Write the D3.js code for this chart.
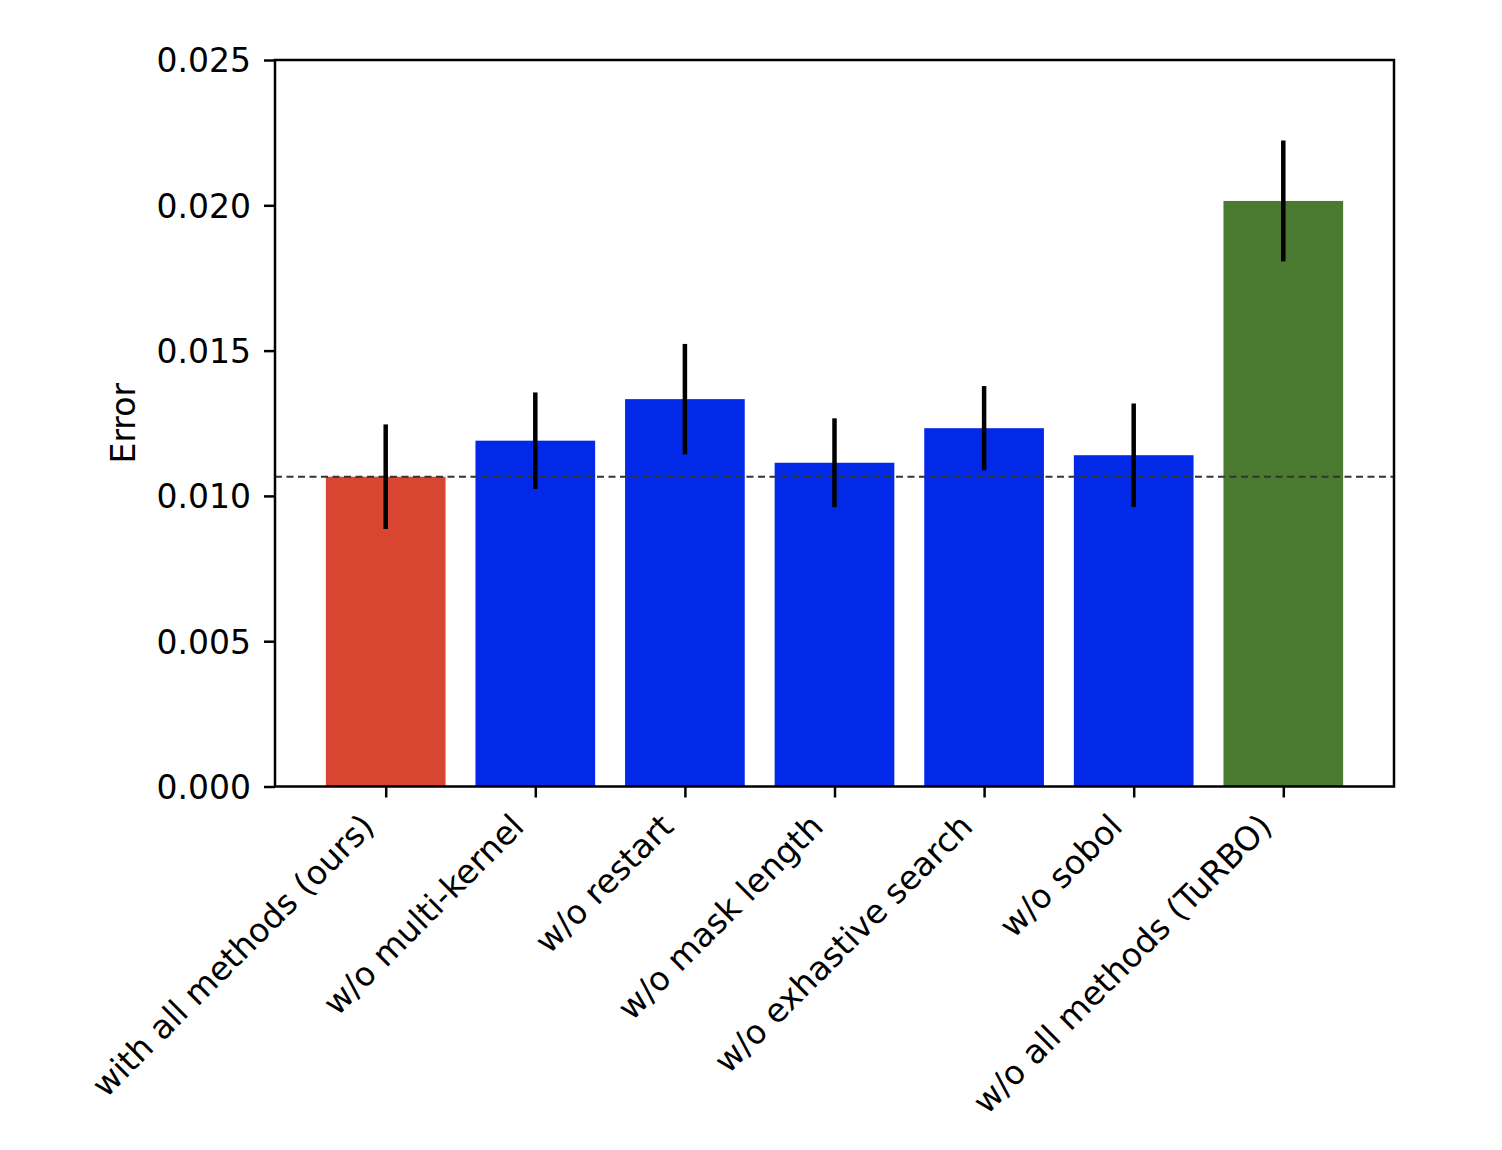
<!DOCTYPE html>
<html>
<head>
<meta charset="utf-8">
<style>
  body { margin: 0; background: #fff; }
  text { font-family: "DejaVu Sans", sans-serif; fill: #000; }
</style>
</head>
<body>
<svg width="1502" height="1150"></svg>
<script src="https://d3js.org/d3.v7.min.js"></script>
<script>
    var methods = [
        "with all methods (ours)",
        "w/o multi-kernel",
        "w/o restart",
        "w/o mask length",
        "w/o exhastive search",
        "w/o sobol",
        "w/o all methods (TuRBO)"
    ];
    var errors = [0.01066, 0.01190, 0.01333, 0.01114, 0.01233, 0.01140, 0.02015];
    var spread = [0.00180, 0.00166, 0.00190, 0.00153, 0.00145, 0.00178, 0.00208];
    var barColors = ["#d84530", "#0229e8", "#0229e8", "#0229e8", "#0229e8", "#0229e8", "#4a7a2f"];
    var yTicks = [0, 0.005, 0.010, 0.015, 0.020, 0.025];
    var baseline = 0.01066;

    var svg = d3.select("svg"),
        axLeft = 275, axRight = 1394, axTop = 60, axBottom = 786.5,
        fontSize = "33px";

    var x = d3.scaleLinear().domain([-0.74, 6.74]).range([axLeft, axRight]);
    var y = d3.scaleLinear().domain([0, 0.025]).range([axBottom, axTop]);
    var barW = x(0.8) - x(0);

    // bars
    svg.selectAll("rect.bar")
        .data(errors)
        .enter().append("rect")
        .attr("class", "bar")
        .attr("x", function(d, i) { return x(i) - barW / 2; })
        .attr("y", function(d) { return y(d); })
        .attr("width", barW)
        .attr("height", function(d) { return y(0) - y(d); })
        .attr("fill", function(d, i) { return barColors[i]; });

    // reference line at our method's error
    svg.append("line")
        .attr("x1", axLeft).attr("x2", axRight)
        .attr("y1", y(baseline)).attr("y2", y(baseline))
        .attr("stroke", "#333")
        .attr("stroke-width", 2)
        .attr("stroke-dasharray", "7,4.5");

    // error bars
    svg.selectAll("line.err")
        .data(errors)
        .enter().append("line")
        .attr("class", "err")
        .attr("x1", function(d, i) { return x(i); })
        .attr("x2", function(d, i) { return x(i); })
        .attr("y1", function(d, i) { return y(d - spread[i]); })
        .attr("y2", function(d, i) { return y(d + spread[i]); })
        .attr("stroke", "#000")
        .attr("stroke-width", 4.5);

    // y axis
    var yAxis = d3.axisLeft(y)
        .tickValues(yTicks)
        .tickFormat(d3.format(".3f"))
        .tickSize(11)
        .tickPadding(13);
    var gy = svg.append("g")
        .attr("transform", "translate(" + axLeft + ",0)")
        .call(yAxis);
    gy.select(".domain").remove();
    gy.selectAll("line").attr("stroke", "#000").attr("stroke-width", 2.5);
    gy.selectAll("text")
        .style("font-size", fontSize)
        .attr("dy", "0.36em");

    // x axis
    var xAxis = d3.axisBottom(x)
        .tickValues(d3.range(methods.length))
        .tickFormat(function(i) { return methods[i]; })
        .tickSize(11)
        .tickPadding(0);
    var gx = svg.append("g")
        .attr("transform", "translate(0," + axBottom + ")")
        .call(xAxis);
    gx.select(".domain").remove();
    gx.selectAll("line").attr("stroke", "#000").attr("stroke-width", 2.5);
    gx.selectAll("text")
        .style("font-size", fontSize)
        .attr("text-anchor", "end")
        .attr("dy", null)
        .attr("y", null)
        .attr("transform", "translate(-10,42) rotate(-45)");

    // frame
    svg.append("rect")
        .attr("x", axLeft).attr("y", axTop)
        .attr("width", axRight - axLeft).attr("height", axBottom - axTop)
        .attr("fill", "none")
        .attr("stroke", "#000")
        .attr("stroke-width", 2.5);

    // y label
    svg.append("text")
        .attr("transform", "translate(135," + ((axTop + axBottom) / 2) + ") rotate(-90)")
        .attr("text-anchor", "middle")
        .style("font-size", fontSize)
        .text("Error");
</script>
</body>
</html>
